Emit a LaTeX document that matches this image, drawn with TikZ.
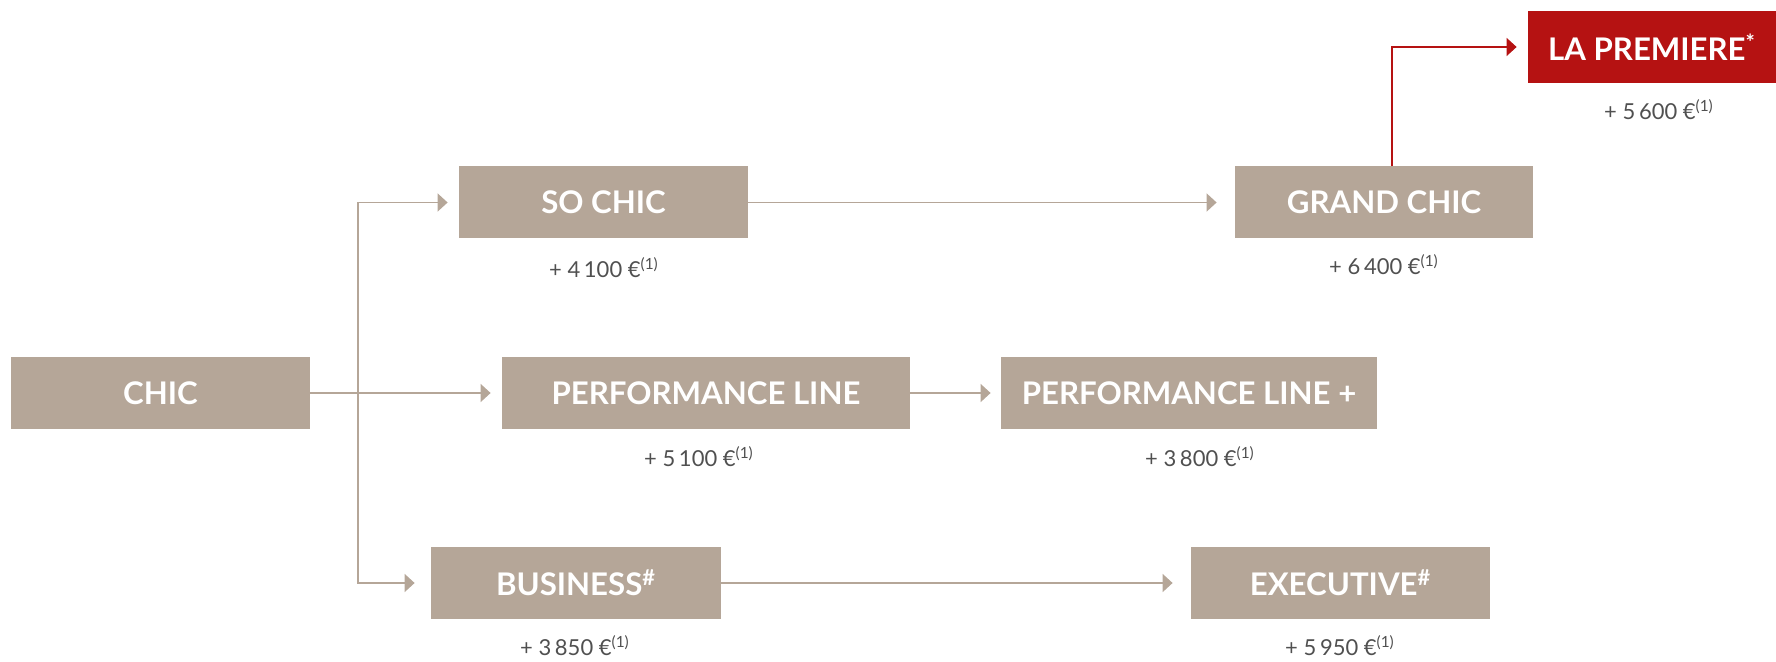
\documentclass[tikz,border=0pt]{standalone}
\usepackage{fontspec}
\setmainfont{Lato}
\usetikzlibrary{arrows.meta}

\definecolor{taupe}{HTML}{B5A698}
\definecolor{premred}{HTML}{B51212}
\definecolor{pricegray}{HTML}{505050}

\tikzset{
	version/.style={fill=taupe, text=white, inner sep=0pt,
		minimum height=36pt, font=\bfseries\fontsize{15.6}{18}\selectfont},
	price/.style={text=pricegray, inner sep=0pt,
		font=\fontsize{11}{13}\selectfont},
	link/.style={draw=taupe, line width=0.75pt,
		-{Triangle[length=5pt, width=9pt]}},
}

\newcommand{\eur}[1]{+ #1 €\textsuperscript{(1)}}

\begin{document}
\begin{tikzpicture}[x=0.5pt, y=-0.5pt]
	\useasboundingbox (0,0) rectangle (1776,662);
	% versions
	\node [version, minimum width=149.5pt] (chic) at (160.5,393) {CHIC};
	\node [version, minimum width=144.5pt] (sochic) at (603.5,202.5) {SO CHIC};
	\node [version, minimum width=204pt] (perf) at (706,393) {PERFORMANCE LINE};
	\node [version, minimum width=145pt] (business) at (576,583)
		{BUSINESS\textsuperscript{\#}};
	\node [version, minimum width=149pt] (grandchic) at (1384,202.5) {GRAND CHIC};
	\node [version, minimum width=188pt] (perfplus) at (1189,393)
		{PERFORMANCE LINE +};
	\node [version, minimum width=149.5pt] (executive) at (1340.5,583)
		{EXECUTIVE\textsuperscript{\#}};
	\node [version, fill=premred, minimum width=124pt] (premiere) at (1652,47)
		{LA PREMIERE\textsuperscript{*}};
	% prices
	\node [price] (sochic-p) at (604,268) {\eur{4\,100}};
	\node [price] (perf-p) at (699,457) {\eur{5\,100}};
	\node [price] (business-p) at (575,646) {\eur{3\,850}};
	\node [price] (grandchic-p) at (1384,265) {\eur{6\,400}};
	\node [price] (perfplus-p) at (1200,457) {\eur{3\,800}};
	\node [price] (executive-p) at (1340,646) {\eur{5\,950}};
	\node [price] (premiere-p) at (1659,110) {\eur{5\,600}};
	% links
	\coordinate (fork) at (358,393);
	\draw [link, shorten >=5.5pt] (chic) -- (perf);
	\draw [link, shorten >=5.5pt] (fork) |- (sochic);
	\draw [link, shorten >=8pt] (fork) |- (business);
	\draw [link, shorten >=9pt] (sochic) -- (grandchic);
	\draw [link, shorten >=5pt] (perf) -- (perfplus);
	\draw [link, shorten >=9pt] (business) -- (executive);
	\draw [link, draw=premred, line width=0.6pt, shorten >=5.5pt]
		([xshift=4pt]grandchic.north) |- (premiere);
\end{tikzpicture}
\end{document}
